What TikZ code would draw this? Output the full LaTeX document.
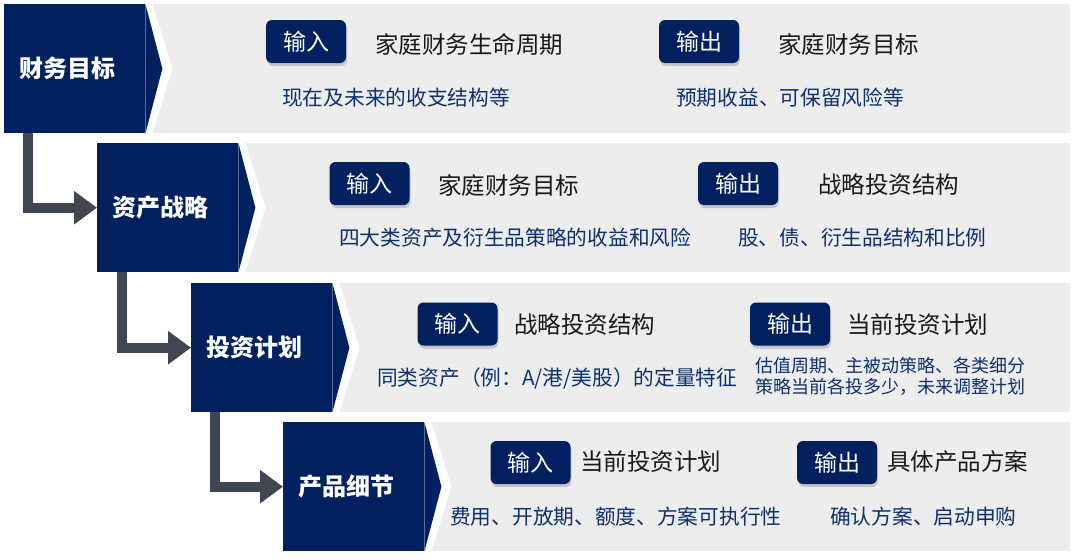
\documentclass[tikz,border=0pt]{standalone}
\usepackage{fontspec}
\setmainfont{Noto Sans CJK SC}
\usetikzlibrary{arrows.meta,shadows,backgrounds}

\definecolor{navy}{RGB}{0,32,96}
\definecolor{panelgray}{RGB}{237,237,237}
\definecolor{flowgray}{RGB}{64,70,82}
\definecolor{descblue}{RGB}{12,48,112}

\begin{document}
\begin{tikzpicture}[x=1pt, y=-1pt,
		stage/.style={fill=navy, text=white, anchor=north west, minimum height=129pt, inner xsep=15pt, inner ysep=0pt, text width=111pt, font=\fontsize{24}{28}\selectfont\bfseries},
		badge/.style={fill=navy, text=white, rounded corners=6pt, minimum width=80pt, minimum height=43pt, inner sep=0pt, drop shadow={shadow xshift=1pt, shadow yshift=-3pt, opacity=0.35}, font=\fontsize{23}{28}\selectfont},
		item/.style={anchor=west, inner sep=0pt, text=black!90, font=\fontsize{23.5}{28}\selectfont},
		note/.style={anchor=west, inner sep=0pt, text=descblue, font=\fontsize{20.7}{24}\selectfont},
		flow/.style={draw=flowgray, line width=10pt, -{Triangle[width=32pt, length=23pt]}}]
				\useasboundingbox (0,0) rectangle (1080,560);
				\coordinate (edge) at (1070,0);
				
				\node[stage] (goal) at (4,4) {财务目标};
				\node[stage] (strat) at (97,143) {资产战略};
				\node[stage] (plan) at (191,283) {投资计划};
				\node[stage] (prod) at (283,422) {产品细节};
				
				\begin{scope}[on background layer]
					\fill[panelgray] (goal.north east) rectangle (goal.south east -| edge);
					\fill[panelgray] (strat.north east) rectangle (strat.south east -| edge);
					\fill[panelgray] (plan.north east) rectangle (plan.south east -| edge);
					\fill[panelgray] (prod.north east) rectangle (prod.south east -| edge);
					\fill[white] ([xshift=-4pt]goal.north east) -- ([xshift=7pt]goal.north east) -- ([xshift=27pt]goal.east) -- ([xshift=7pt]goal.south east) -- ([xshift=-4pt]goal.south east) -- cycle;
					\fill[white] ([xshift=-4pt]strat.north east) -- ([xshift=7pt]strat.north east) -- ([xshift=27pt]strat.east) -- ([xshift=7pt]strat.south east) -- ([xshift=-4pt]strat.south east) -- cycle;
					\fill[white] ([xshift=-4pt]plan.north east) -- ([xshift=7pt]plan.north east) -- ([xshift=27pt]plan.east) -- ([xshift=7pt]plan.south east) -- ([xshift=-4pt]plan.south east) -- cycle;
					\fill[white] ([xshift=-4pt]prod.north east) -- ([xshift=7pt]prod.north east) -- ([xshift=27pt]prod.east) -- ([xshift=7pt]prod.south east) -- ([xshift=-4pt]prod.south east) -- cycle;
				\end{scope}
				
				\fill[navy] (goal.north east) -- ([xshift=17pt]goal.east) -- (goal.south east) -- cycle;
				\fill[navy] (strat.north east) -- ([xshift=17pt]strat.east) -- (strat.south east) -- cycle;
				\fill[navy] (plan.north east) -- ([xshift=17pt]plan.east) -- (plan.south east) -- cycle;
				\fill[navy] (prod.north east) -- ([xshift=17pt]prod.east) -- (prod.south east) -- cycle;
				
				\node[badge] (goal-in) at (306,41.5) {输入};
				\node[item] (goal-in-text) at (375,44) {家庭财务生命周期};
				\node[note] (goal-in-note) at (282,98) {现在及未来的收支结构等};
				\node[badge] (goal-out) at (699,41.5) {输出};
				\node[item] (goal-out-text) at (778,44) {家庭财务目标};
				\node[note] (goal-out-note) at (676,98) {预期收益、可保留风险等};
				
				\node[badge] (strat-in) at (369.5,183.5) {输入};
				\node[item] (strat-in-text) at (438,185) {家庭财务目标};
				\node[note] (strat-in-note) at (339,238) {四大类资产及衍生品策略的收益和风险};
				\node[badge] (strat-out) at (738,183.5) {输出};
				\node[item] (strat-out-text) at (818,185) {战略投资结构};
				\node[note] (strat-out-note) at (738,238) {股、债、衍生品结构和比例};
				
				\node[badge] (plan-in) at (457.5,324) {输入};
				\node[item] (plan-in-text) at (514,325) {战略投资结构};
				\node[note] (plan-in-note) at (377,378) {同类资产（例：A/港/美股）的定量特征};
				\node[badge] (plan-out) at (790,324) {输出};
				\node[item] (plan-out-text) at (847,325) {当前投资计划};
				\node[note, align=left, font=\fontsize{18}{21}\selectfont] (plan-out-note) at (755,376.5) {估值周期、主被动策略、各类细分\\策略当前各投多少，未来调整计划};
				
				\node[badge] (prod-in) at (530.5,462.5) {输入};
				\node[item] (prod-in-text) at (580,462) {当前投资计划};
				\node[note] (prod-in-note) at (450,517) {费用、开放期、额度、方案可执行性};
				\node[badge] (prod-out) at (837,462.5) {输出};
				\node[item] (prod-out-text) at (887,462) {具体产品方案};
				\node[note] (prod-out-note) at (830,517) {确认方案、启动申购};
				
				\draw[flow] ([xshift=24pt]goal.south west) |- (strat.west);
				\draw[flow] ([xshift=25pt]strat.south west) |- (plan.west);
				\draw[flow] ([xshift=24pt]plan.south west) |- (prod.west);
			\end{tikzpicture}
\end{document}
